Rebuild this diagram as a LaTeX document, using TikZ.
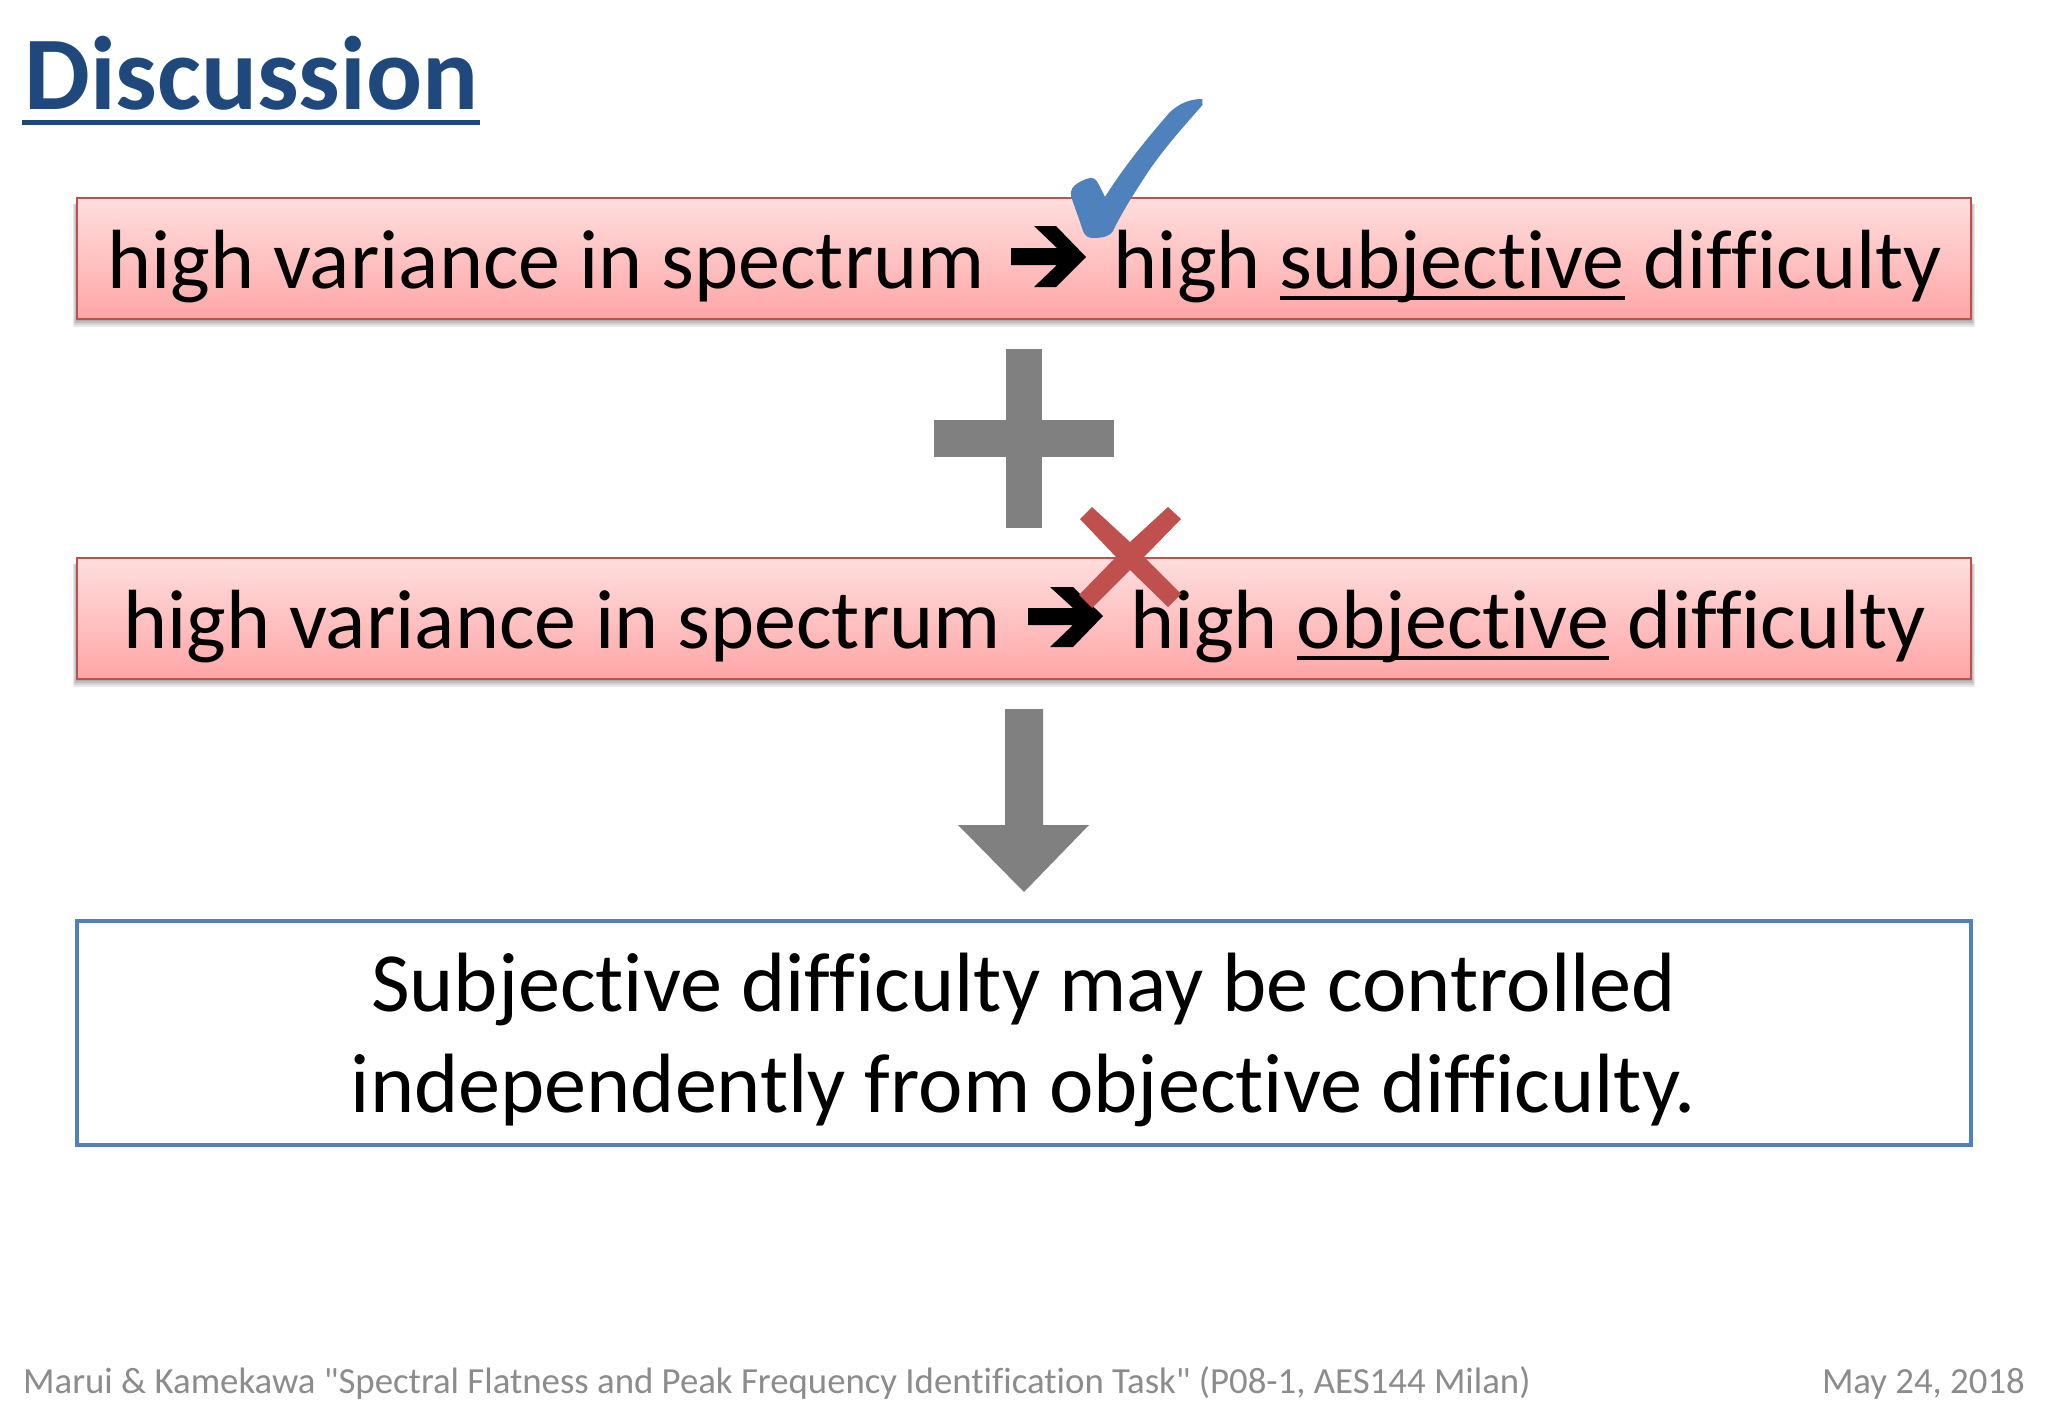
\documentclass[tikz,border=0pt]{standalone}
\usepackage{fontspec}
\setmainfont[RawFeature={-liga;-clig}]{Carlito}
\newfontfamily\footfont[RawFeature={-liga;-clig}]{Carlito}
\definecolor{titleblue}{HTML}{1F497D}
\definecolor{boxred}{HTML}{C0504D}
\definecolor{xred}{HTML}{C0504D}
\definecolor{markblue}{HTML}{4F81BD}
\definecolor{symgray}{HTML}{808080}
\definecolor{footgray}{HTML}{8C8C8C}
\newcommand\ulx[1]{\setbox0\hbox{#1}\rlap{\rule[-11pt]{\wd0}{3.6pt}}\box0\relax}
\tikzset{
 redbox/.style={rectangle,draw=boxred,line width=1.6pt,outer sep=0pt,top color=red!13!white,bottom color=red!35!white,minimum width=1894pt,minimum height=121pt,inner sep=0pt,anchor=north west},
 softshadow/.style={fill=black,fill opacity=.09,draw=none},
 bluebox/.style={rectangle,draw=markblue,line width=4pt,outer sep=0pt,fill=white,minimum width=1894pt,minimum height=224pt,inner sep=0pt,anchor=north west},
 big/.style={inner sep=0pt,anchor=base west,font=\fontsize{84}{100}\selectfont,text=black},
 concl/.style={inner sep=0pt,anchor=base,font=\fontsize{84.2}{100}\selectfont,text=black},
 foot/.style={inner sep=0pt,font=\footfont\fontsize{36.8}{44}\selectfont,text=footgray},
 arrowglyph/.style={fill=black,draw=none},
 graysym/.style={fill=symgray,draw=none},
}
\begin{document}
\begin{tikzpicture}[x=1pt,y=-1pt]
\useasboundingbox[fill=white] (0,0) rectangle (2048,1418);
% title
\node[inner sep=0pt,anchor=base west,font=\fontsize{104.5}{120}\selectfont\bfseries,text=titleblue] (title) at (24,110) {Discussion};
\fill[titleblue] (22,120) rectangle (480,125);
% soft shadows under the red boxes
\foreach \t/\b in {198/319,558/679}{
  \foreach \d in {2,4,6,8}{
    \fill[softshadow] (77-\d/2,\t+6) rectangle (1971+\d/2,\b+\d);
  }
}
% boxes
\node[redbox] (box1) at (77,198) {};
\node[redbox] (box2) at (77,558) {};
\node[bluebox] (box3) at (77,921) {};
% box 1 text
\node[big] (l1) at (107,288.5) {high variance in spectrum};
\node[big] (r1) at (1113.5,288.5) {high \ulx{subjective} difficulty};
\fill[arrowglyph] (1011,248) -- (1057,248) -- (1034,226) -- (1056,226) -- (1086,257) -- (1056,287) -- (1034,287) -- (1057,265) -- (1011,265) -- cycle;
% box 2 text
\node[big] (l2) at (123,648.5) {high variance in spectrum};
\node[big] (r2) at (1130.5,648.5) {high \ulx{objective} difficulty};
\fill[arrowglyph] (1028,608) -- (1073,608) -- (1050,587) -- (1073,587) -- (1103,616) -- (1073,647) -- (1050,647) -- (1073,625) -- (1028,625) -- cycle;
% plus
\fill[graysym] (1006,349) rectangle (1042,420);
\fill[graysym] (934,420) rectangle (1114,457);
\fill[graysym] (1006,457) rectangle (1042,528);
% down arrow
\fill[graysym] (1005,709) -- (1043,709) -- (1043,825) -- (1089,825) -- (1024,892) -- (958,825) -- (1005,825) -- cycle;
% conclusion
\node[concl] (c1) at (1023.5,1011) {Subjective difficulty may be controlled};
\node[concl] (c2) at (1023.5,1112) {independently from objective difficulty.};
% footer
\node[foot,anchor=base west] (f1) at (23,1393) {Marui \& Kamekawa "Spectral Flatness and Peak Frequency Identification Task" (P08-1, AES144 Milan)};
\node[foot,anchor=base east] (f2) at (2025,1393) {May 24, 2018};
% check mark
\fill[markblue] (1202.3,99) -- (1202.5,105) .. controls (1185,125) and (1165,147) .. (1148,172) .. controls (1135,192) and (1122,212) .. (1113,231) .. controls (1110,236) and (1104,238) .. (1093,238) .. controls (1088,238) and (1085,236) .. (1083,231) .. controls (1079,218) and (1074,206) .. (1071,196) .. controls (1070,190) and (1073,186) .. (1078,183) .. controls (1083,180) and (1088,178) .. (1091,178) .. controls (1095,178) and (1097,181) .. (1099,185) -- (1105,197) .. controls (1125,165) and (1150,135) .. (1170,112) .. controls (1180,103) and (1190,99) .. (1202.3,99) -- cycle;
% cross
\fill[xred] (1092,507) -- (1130,542) -- (1168,507) -- (1181,519) -- (1144,557) -- (1181,594) -- (1168,607) -- (1130,570) -- (1092,608) -- (1079,595) -- (1116,557) -- (1080,519) -- cycle;
\end{tikzpicture}
\end{document}
